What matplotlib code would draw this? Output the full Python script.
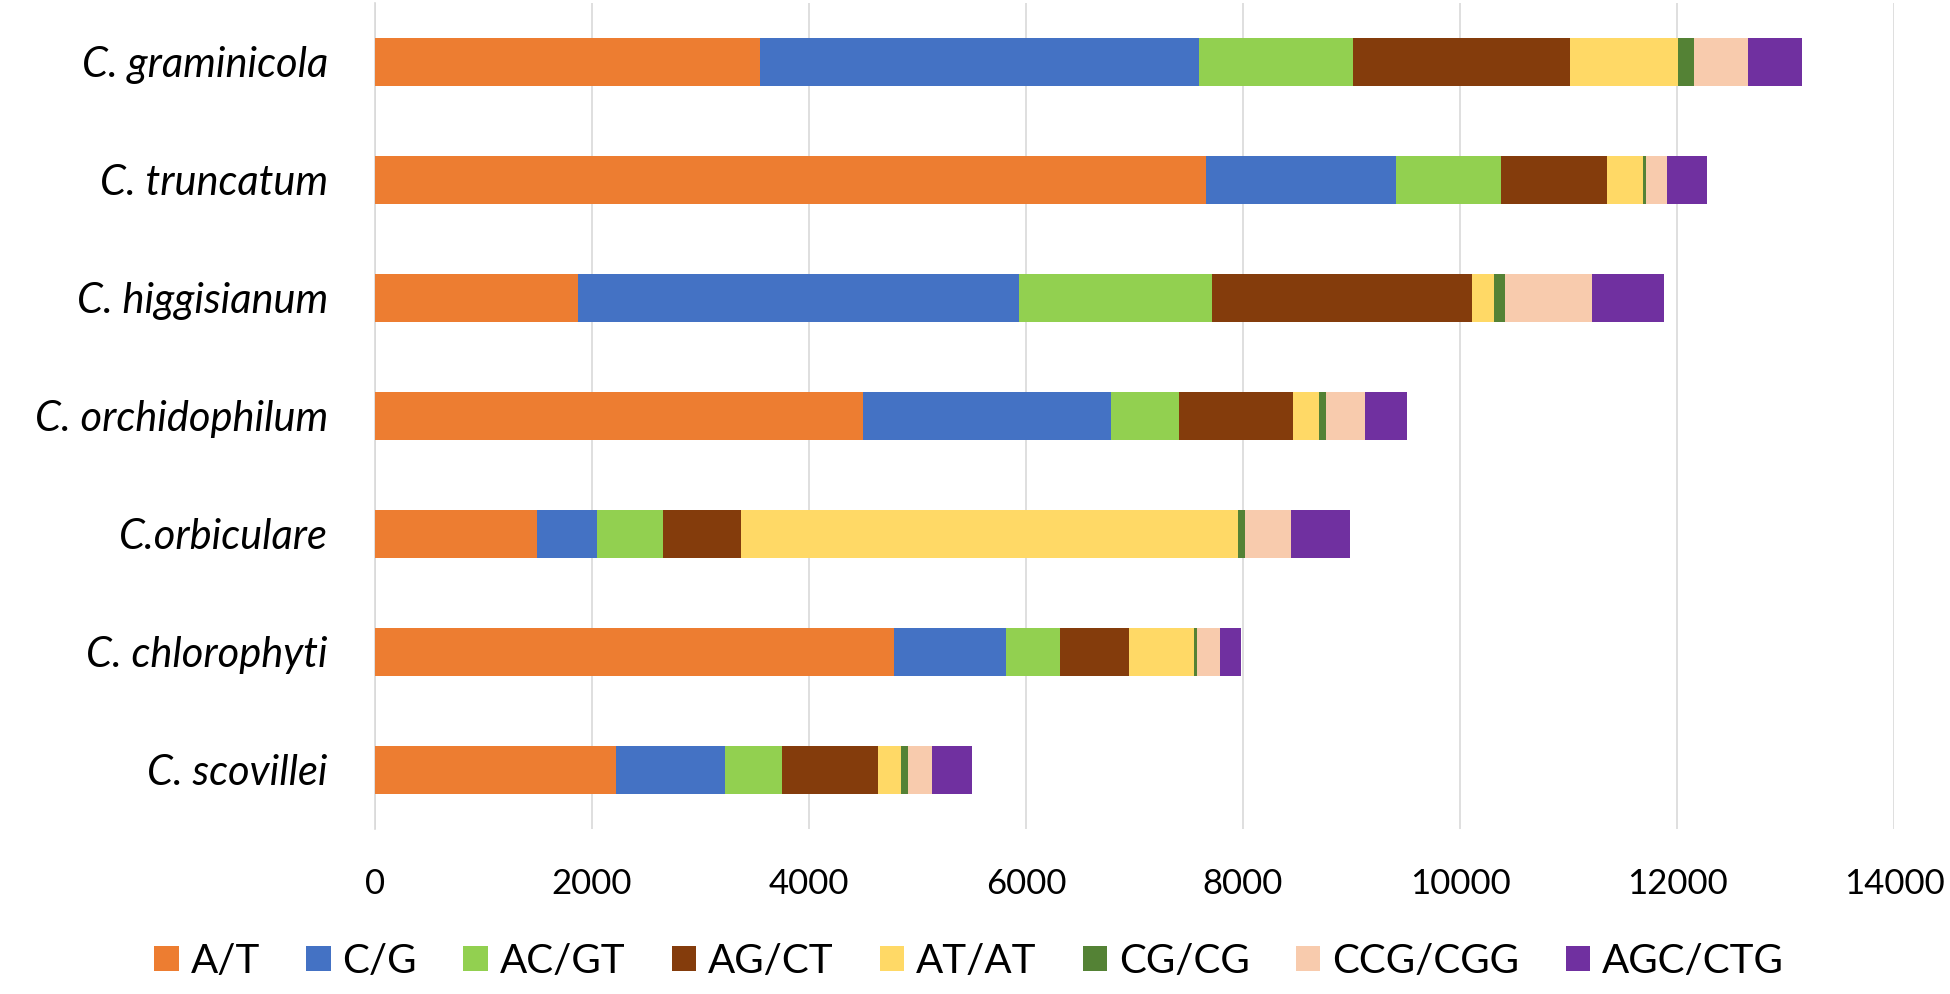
import matplotlib
matplotlib.use("Agg")
import matplotlib.pyplot as plt
import numpy as np

species = ["C. graminicola", "C. truncatum", "C. higgisianum", "C. orchidophilum",
           "C.orbiculare", "C. chlorophyti", "C. scovillei"]
motifs = ["A/T", "C/G", "AC/GT", "AG/CT", "AT/AT", "CG/CG", "CCG/CGG", "AGC/CTG"]

A_T     = [3550, 7658, 1873, 4497, 1492, 4785, 2222]
C_G     = [4047, 1754, 4065, 2283, 550, 1031, 1000]
AC_GT   = [1418, 968, 1778, 626, 609, 500, 530]
AG_CT   = [2003, 970, 2391, 1051, 725, 636, 880]
AT_AT   = [991, 334, 203, 242, 4578, 593, 213]
CG_CG   = [144, 31, 101, 64, 61, 31, 64]
CCG_CGG = [500, 193, 801, 365, 430, 209, 225]
AGC_CTG = [497, 365, 668, 380, 544, 200, 365]

xticks = [0, 2000, 4000, 6000, 8000, 10000, 12000, 14000]

series = [A_T, C_G, AC_GT, AG_CT, AT_AT, CG_CG, CCG_CGG, AGC_CTG]
colors = ["#ED7D31", "#4472C4", "#92D050", "#843C0C", "#FFD966", "#548235", "#F8CBAD", "#7030A0"]

plt.rcParams['font.family'] = ['Lato', 'DejaVu Sans']

fig = plt.figure(figsize=(19.5, 9.94), dpi=100)
ax = fig.add_axes([0.1923, 0.166, 0.9713 - 0.1923, 0.997 - 0.166])

y = np.arange(len(species))
left = np.zeros(len(species))
for vals, col, lab in zip(series, colors, motifs):
    ax.barh(y, vals, left=left, height=0.4, color=col, label=lab, zorder=3)
    left += np.array(vals)

ax.set_xlim(0, 14000)
ax.set_ylim(len(species) - 0.5, -0.5)
ax.set_xticks(xticks)
ax.set_xticklabels([str(t) for t in xticks], fontsize=25)
ax.set_yticks(y)
ax.set_yticklabels(species, fontsize=30, style='italic')
ax.tick_params(axis='both', length=0)
ax.tick_params(axis='y', pad=34)
ax.tick_params(axis='x', pad=28)
ax.grid(axis='x', color='#d9d9d9', linewidth=1.2, zorder=0)
for s in ['top', 'right', 'bottom']:
    ax.spines[s].set_visible(False)
ax.spines['left'].set_color('#d9d9d9')
ax.spines['left'].set_linewidth(1.2)

handles, labels = ax.get_legend_handles_labels()
fig.legend(handles, labels, loc='center', bbox_to_anchor=(0.497, 0.033), ncol=8,
           frameon=False, fontsize=29, handlelength=0.6, handleheight=0.6,
           handletextpad=0.3, columnspacing=1.15)

fig.savefig("out.png", dpi=100)
